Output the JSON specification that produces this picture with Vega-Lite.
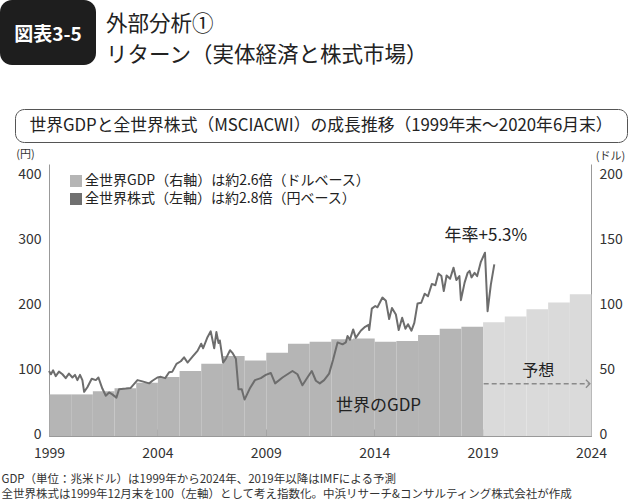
{
  "$schema": "https://vega.github.io/schema/vega-lite/v6.json",
  "padding": 0,
  "background": "white",
  "config": {
    "font": "Noto Sans CJK JP",
    "view": {"stroke": null}
  },
  "datasets": {
    "gdp": [
      {"year": 1999, "gdp": 32, "kind": "実績"},
      {"year": 2000, "gdp": 32, "kind": "実績"},
      {"year": 2001, "gdp": 34.5, "kind": "実績"},
      {"year": 2002, "gdp": 36.7, "kind": "実績"},
      {"year": 2003, "gdp": 41, "kind": "実績"},
      {"year": 2004, "gdp": 45.4, "kind": "実績"},
      {"year": 2005, "gdp": 50, "kind": "実績"},
      {"year": 2006, "gdp": 55.6, "kind": "実績"},
      {"year": 2007, "gdp": 61.5, "kind": "実績"},
      {"year": 2008, "gdp": 58, "kind": "実績"},
      {"year": 2009, "gdp": 64, "kind": "実績"},
      {"year": 2010, "gdp": 71, "kind": "実績"},
      {"year": 2011, "gdp": 72.5, "kind": "実績"},
      {"year": 2012, "gdp": 74.5, "kind": "実績"},
      {"year": 2013, "gdp": 75, "kind": "実績"},
      {"year": 2014, "gdp": 72.5, "kind": "実績"},
      {"year": 2015, "gdp": 73, "kind": "実績"},
      {"year": 2016, "gdp": 77.7, "kind": "実績"},
      {"year": 2017, "gdp": 82.5, "kind": "実績"},
      {"year": 2018, "gdp": 84, "kind": "実績"},
      {"year": 2019, "gdp": 87.5, "kind": "予測"},
      {"year": 2020, "gdp": 92, "kind": "予測"},
      {"year": 2021, "gdp": 97.4, "kind": "予測"},
      {"year": 2022, "gdp": 102.6, "kind": "予測"},
      {"year": 2023, "gdp": 109, "kind": "予測"}
    ],
    "stock": [
      {"t": 1999.00, "index": 100}, {"t": 1999.09, "index": 95}, {"t": 1999.19, "index": 101},
      {"t": 1999.31, "index": 92}, {"t": 1999.46, "index": 99}, {"t": 1999.62, "index": 95},
      {"t": 1999.77, "index": 89}, {"t": 1999.92, "index": 96}, {"t": 2000.08, "index": 90},
      {"t": 2000.20, "index": 94}, {"t": 2000.31, "index": 86}, {"t": 2000.43, "index": 94},
      {"t": 2000.54, "index": 86}, {"t": 2000.62, "index": 68}, {"t": 2000.77, "index": 75},
      {"t": 2000.97, "index": 88}, {"t": 2001.16, "index": 86}, {"t": 2001.28, "index": 90},
      {"t": 2001.46, "index": 73}, {"t": 2001.62, "index": 62}, {"t": 2001.77, "index": 67},
      {"t": 2001.92, "index": 64}, {"t": 2002.11, "index": 59}, {"t": 2002.23, "index": 72},
      {"t": 2002.54, "index": 73}, {"t": 2002.77, "index": 74}, {"t": 2003.08, "index": 86},
      {"t": 2003.31, "index": 84}, {"t": 2003.62, "index": 81}, {"t": 2003.77, "index": 85},
      {"t": 2004.00, "index": 90}, {"t": 2004.16, "index": 91}, {"t": 2004.36, "index": 89},
      {"t": 2004.54, "index": 98}, {"t": 2004.69, "index": 99}, {"t": 2004.88, "index": 111},
      {"t": 2005.08, "index": 115}, {"t": 2005.23, "index": 121}, {"t": 2005.39, "index": 113},
      {"t": 2005.62, "index": 122}, {"t": 2005.85, "index": 131}, {"t": 2006.02, "index": 142},
      {"t": 2006.11, "index": 135}, {"t": 2006.31, "index": 152}, {"t": 2006.46, "index": 161},
      {"t": 2006.62, "index": 135}, {"t": 2006.72, "index": 160}, {"t": 2006.82, "index": 143},
      {"t": 2006.88, "index": 147}, {"t": 2007.03, "index": 113}, {"t": 2007.16, "index": 119},
      {"t": 2007.35, "index": 132}, {"t": 2007.46, "index": 128}, {"t": 2007.62, "index": 119},
      {"t": 2007.74, "index": 72}, {"t": 2007.89, "index": 72}, {"t": 2008.02, "index": 56},
      {"t": 2008.26, "index": 73}, {"t": 2008.50, "index": 86}, {"t": 2008.77, "index": 89},
      {"t": 2009.00, "index": 94}, {"t": 2009.23, "index": 97}, {"t": 2009.43, "index": 81},
      {"t": 2009.77, "index": 90}, {"t": 2010.23, "index": 100}, {"t": 2010.46, "index": 95},
      {"t": 2010.69, "index": 78}, {"t": 2010.92, "index": 90}, {"t": 2011.12, "index": 100},
      {"t": 2011.31, "index": 85}, {"t": 2011.49, "index": 81}, {"t": 2011.69, "index": 86},
      {"t": 2011.92, "index": 96}, {"t": 2012.10, "index": 117}, {"t": 2012.31, "index": 144},
      {"t": 2012.54, "index": 141}, {"t": 2012.69, "index": 144}, {"t": 2012.77, "index": 154},
      {"t": 2012.88, "index": 148}, {"t": 2013.03, "index": 164}, {"t": 2013.15, "index": 151},
      {"t": 2013.38, "index": 162}, {"t": 2013.58, "index": 168}, {"t": 2013.74, "index": 171},
      {"t": 2013.77, "index": 163}, {"t": 2013.89, "index": 196}, {"t": 2014.05, "index": 200},
      {"t": 2014.15, "index": 198}, {"t": 2014.38, "index": 213}, {"t": 2014.54, "index": 208},
      {"t": 2014.69, "index": 180}, {"t": 2014.82, "index": 197}, {"t": 2015.00, "index": 187},
      {"t": 2015.13, "index": 163}, {"t": 2015.29, "index": 182}, {"t": 2015.44, "index": 165},
      {"t": 2015.56, "index": 172}, {"t": 2015.72, "index": 162}, {"t": 2015.85, "index": 174},
      {"t": 2016.00, "index": 204}, {"t": 2016.17, "index": 205}, {"t": 2016.33, "index": 219},
      {"t": 2016.48, "index": 215}, {"t": 2016.66, "index": 234}, {"t": 2016.82, "index": 232},
      {"t": 2016.96, "index": 250}, {"t": 2017.10, "index": 246}, {"t": 2017.21, "index": 223},
      {"t": 2017.34, "index": 247}, {"t": 2017.50, "index": 242}, {"t": 2017.66, "index": 259},
      {"t": 2017.79, "index": 240}, {"t": 2017.93, "index": 246}, {"t": 2018.00, "index": 209},
      {"t": 2018.17, "index": 236}, {"t": 2018.31, "index": 251}, {"t": 2018.40, "index": 254},
      {"t": 2018.49, "index": 244}, {"t": 2018.63, "index": 251}, {"t": 2018.75, "index": 246},
      {"t": 2018.92, "index": 268}, {"t": 2019.11, "index": 282}, {"t": 2019.23, "index": 192},
      {"t": 2019.38, "index": 233}, {"t": 2019.54, "index": 264}
    ]
  },
  "spacing": 5,
  "resolve": {"scale": {"color": "independent"}, "legend": {"color": "independent"}},
  "vconcat": [
    {
      "spacing": 9,
      "hconcat": [
        {
          "width": 96,
          "height": 65,
          "data": {"values": [{"label": "図表3-5"}]},
          "view": {"fill": "#1e1e1e", "cornerRadius": 12, "stroke": null},
          "mark": {"type": "text", "color": "white", "fontSize": 19, "fontWeight": "bold", "dy": 2},
          "encoding": {"text": {"field": "label"}}
        },
        {
          "width": 2,
          "height": 103,
          "data": {"values": [{"label": "外部分析①\nリターン（実体経済と株式市場）"}]},
          "mark": {"type": "text", "align": "left", "baseline": "middle", "lineBreak": "\n", "fontSize": 21.5, "lineHeight": 31, "dy": -26.5, "color": "#222"},
          "encoding": {"text": {"field": "label"}}
        }
      ]
    },
    {
      "spacing": 13,
      "hconcat": [
        {
          "width": 1,
          "height": 33,
          "data": {"values": [{"label": ""}]},
          "mark": {"type": "text"},
          "encoding": {"text": {"field": "label"}}
        },
        {
          "width": 612,
          "height": 33,
          "data": {"values": [{"label": "世界GDPと全世界株式（MSCIACWI）の成長推移（1999年末～2020年6月末）"}]},
          "view": {"stroke": "#555", "strokeWidth": 1, "cornerRadius": 9, "fill": null},
          "mark": {"type": "text", "fontSize": 16.8, "color": "#222"},
          "encoding": {"text": {"field": "label"}}
        }
      ]
    },
    {
      "spacing": 0,
      "resolve": {"scale": {"color": "independent"}, "legend": {"color": "independent"}},
      "hconcat": [
        {
          "width": 1,
          "height": 33,
          "data": {"values": [{"label": ""}]},
          "mark": {"type": "text"},
          "encoding": {"text": {"field": "label"}}
        },
        {
          "width": 542,
          "height": 272,
          "layer": [
            {
              "layer": [
                {
                  "data": {"name": "gdp"},
                  "transform": [{"filter": "datum.kind === '実績'"}],
                  "mark": {"type": "bar", "binSpacing": 0},
                  "encoding": {
                    "x": {
                      "field": "year", "type": "quantitative",
                      "bin": {"binned": true, "step": 1},
                      "scale": {"domain": [1999, 2024], "nice": false, "zero": false},
                      "axis": {
                        "values": [1999, 2004, 2009, 2014, 2019, 2024],
                        "format": "d",
                        "grid": false,
                        "labelFontSize": 14, "labelColor": "#333", "labelFlush": false,
                        "labelPadding": 17,
                        "tickSize": -7, "tickColor": "#666",
                        "domainColor": "#999",
                        "title": [
                          "GDP（単位：兆米ドル）は1999年から2024年、2019年以降はIMFによる予測",
                          "全世界株式は1999年12月末を100（左軸）として考え指数化。中浜リサーチ&コンサルティング株式会社が作成"
                        ],
                        "titleFontSize": 11.5, "titleFontWeight": "normal", "titleColor": "#333",
                        "titleX": -48, "titleY": 37, "titleAlign": "left", "titleAnchor": "start",
                        "titleBaseline": "top", "titleLineHeight": 15
                      }
                    },
                    "y": {
                      "field": "gdp", "type": "quantitative",
                      "scale": {"domain": [0, 209.2], "nice": false},
                      "axis": {
                        "orient": "right",
                        "values": [0, 50, 100, 150, 200],
                        "grid": false, "ticks": false,
                        "domainColor": "#999",
                        "labelFontSize": 14, "labelColor": "#333", "labelPadding": 8, "labelOffset": -1.5,
                        "title": "(ドル)", "titleAngle": 0, "titleFontSize": 11, "titleFontWeight": "normal",
                        "titleColor": "#333", "titleX": 19, "titleY": -8, "titleAlign": "center", "titleBaseline": "middle"
                      }
                    },
                    "color": {
                      "datum": "全世界GDP（右軸）は約2.6倍（ドルベース）",
                      "scale": {
                        "domain": ["全世界GDP（右軸）は約2.6倍（ドルベース）", "全世界株式（左軸）は約2.8倍（円ベース）"],
                        "range": ["#b5b5b5", "#707070"]
                      },
                      "legend": {
                        "orient": "none", "legendX": 20, "legendY": 10, "title": null,
                        "symbolType": "square", "symbolSize": 144, "symbolStrokeWidth": 0,
                        "labelFontSize": 14, "labelColor": "#222", "labelOffset": 2, "labelLimit": 500,
                        "rowPadding": 4, "padding": 0
                      }
                    }
                  }
                },
                {
                  "data": {"name": "gdp"},
                  "transform": [{"filter": "datum.kind === '予測'"}],
                  "mark": {"type": "bar", "binSpacing": 0, "color": "#dadada"},
                  "encoding": {
                    "x": {"field": "year", "type": "quantitative", "bin": {"binned": true, "step": 1}},
                    "y": {"field": "gdp", "type": "quantitative"}
                  }
                },
                {
                  "data": {"values": [{}]},
                  "mark": {"type": "rule", "strokeDash": [5, 3], "color": "#8a8a8a", "strokeWidth": 1.3},
                  "encoding": {
                    "x": {"datum": 2019.05},
                    "x2": {"datum": 2023.9},
                    "y": {"datum": 40.2}
                  }
                },
                {
                  "data": {"values": [{}]},
                  "mark": {"type": "point", "shape": "M-1,-1L0,0L-1,1", "filled": false, "size": 64, "color": "#8a8a8a", "strokeWidth": 1.3, "opacity": 1},
                  "encoding": {
                    "x": {"datum": 2023.95},
                    "y": {"datum": 40.2}
                  }
                },
                {
                  "data": {"values": [{}]},
                  "mark": {"type": "text", "fontSize": 16, "color": "#222"},
                  "encoding": {
                    "x": {"datum": 2021.57},
                    "y": {"datum": 50},
                    "text": {"value": "予想"}
                  }
                },
                {
                  "data": {"values": [{}]},
                  "mark": {"type": "text", "fontSize": 17, "color": "#222"},
                  "encoding": {
                    "x": {"datum": 2014.2},
                    "y": {"datum": 23},
                    "text": {"value": "世界のGDP"}
                  }
                }
              ]
            },
            {
              "layer": [
                {
                  "data": {"name": "stock"},
                  "mark": {"type": "line", "strokeWidth": 2, "color": "#6d6d6d", "strokeJoin": "round"},
                  "encoding": {
                    "x": {"field": "t", "type": "quantitative"},
                    "y": {
                      "field": "index", "type": "quantitative",
                      "scale": {"domain": [0, 418.5], "nice": false},
                      "axis": {
                        "orient": "left",
                        "values": [0, 100, 200, 300, 400],
                        "grid": false, "ticks": false,
                        "domainColor": "#999",
                        "labelFontSize": 14, "labelColor": "#333", "labelPadding": 8, "labelOffset": -1.5,
                        "title": "(円)", "titleAngle": 0, "titleFontSize": 11, "titleFontWeight": "normal",
                        "titleColor": "#333", "titleX": -24, "titleY": -10, "titleAlign": "center", "titleBaseline": "middle"
                      }
                    }
                  }
                },
                {
                  "data": {"values": [{}]},
                  "mark": {"type": "text", "fontSize": 17, "color": "#222"},
                  "encoding": {
                    "x": {"datum": 2019.15},
                    "y": {"datum": 308},
                    "text": {"value": "年率+5.3%"}
                  }
                }
              ]
            }
          ],
          "resolve": {"scale": {"y": "independent"}, "axis": {"y": "independent"}}
        }
      ]
    }
  ]
}
